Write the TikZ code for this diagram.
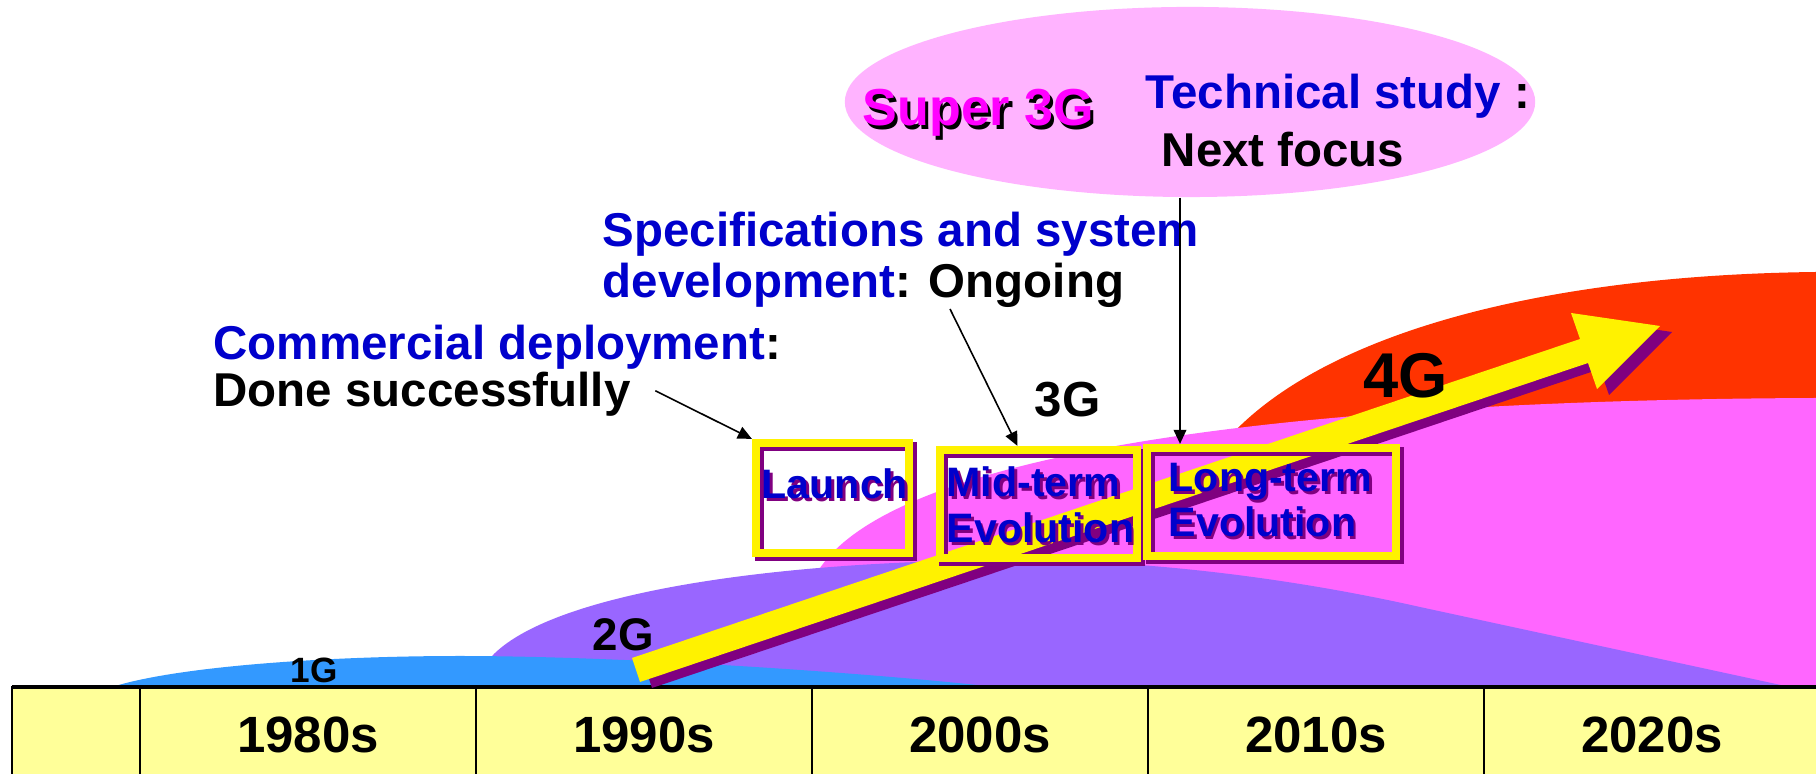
\documentclass[tikz,border=0pt]{standalone}
\usepackage{fontspec}
\setmainfont{Liberation Sans}
\usetikzlibrary{arrows.meta, positioning, calc, shapes.geometric}

\definecolor{gen1}{HTML}{3399FF}
\definecolor{gen2}{HTML}{9966FF}
\definecolor{gen3}{HTML}{FF66FF}
\definecolor{gen4}{HTML}{FF3300}
\definecolor{cloudpink}{HTML}{FFB3FF}
\definecolor{tablefill}{HTML}{FFFF99}
\definecolor{shadowpurple}{HTML}{800080}
\definecolor{labelblue}{HTML}{0000CC}
\definecolor{superpink}{HTML}{FF00FF}

% 带阴影的文字
\newcommand{\castshadow}[4]{\makebox[0pt][l]{\hspace{#3}\raisebox{-#3}{\textcolor{#2}{#4}}}\textcolor{#1}{#4}}
\newcommand{\boxtxt}[1]{\castshadow{labelblue}{shadowpurple}{0.8pt}{#1}}

\begin{document}
\begin{tikzpicture}[x=0.01cm, y=-0.01cm,
    stage/.style={draw=yellow, line width=2.3pt, inner sep=0pt,
      preaction={draw=shadowpurple, line width=2.3pt, transform canvas={xshift=1pt, yshift=-1pt}}},
    stagelabel/.style={inner sep=0pt, anchor=base west, font=\bfseries\fontsize{11.7}{13}\selectfont},
    note/.style={inner sep=0pt, anchor=base west, font=\bfseries\fontsize{13.5}{15}\selectfont},
    decade/.style={inner sep=0pt, anchor=base, font=\bfseries\fontsize{14.5}{16}\selectfont},
    genlabel/.style={inner sep=0pt, anchor=base west},
    pointer/.style={-{Triangle[length=4pt, width=3.6pt]}, line width=0.45pt}]
        % 固定画布大小
        \useasboundingbox (0,0) rectangle (1816,774);
        % 4G 红色区域
        \fill[gen4] (1231,500) -- (1231,435) .. controls (1330,330) and (1550,275) .. (1816,272) -- (1816,500) -- cycle;
        % 3G 粉色区域
        \fill[gen3] (820,687) -- (820,568) .. controls (900,450) and (1300,400) .. (1816,398) -- (1816,687) -- cycle;
        % 2G 紫色区域
        \fill[gen2] (492,687) -- (492,656) .. controls (550,595) and (760,562) .. (1000,560) .. controls (1150,559) and (1300,580) .. (1420,607) -- (1790,687) -- cycle;
        % 1G 蓝色区域
        \fill[gen1] (112,687) .. controls (178,666) and (330,656) .. (460,656) .. controls (620,656) and (860,672) .. (996,687) -- cycle;
        % 年代表格
        \draw[fill=tablefill, line width=0.6pt] (12,687) rectangle (1840,800);
        \draw[line width=0.9pt] (12,687) -- (1840,687);
        \foreach \x in {140,476,812,1148,1484}
            \draw[line width=0.6pt] (\x,687) -- (\x,774);
        \foreach \decname [count=\i] in {1980s,1990s,2000s,2010s,2020s}
            \node[decade] (dec\i) at ({308+336*(\i-1)},753) {\decname};
        % 黄色大箭头，先画阴影
        \foreach \dx/\dy/\col in {12/6/shadowpurple, 0/0/yellow}
            \fill[fill=\col, shift={(\dx,\dy)}] (632,658) -- (1580,339) -- (1571,313) -- (1660,326)
                -- (1597,389) -- (1588,363) -- (640,682) -- cycle;
        % 三个阶段方框
        \node[stage, minimum width=1.53cm, minimum height=1.10cm] (launch) at (832.5,498) {};
        \node[stage, minimum width=1.97cm, minimum height=1.08cm] (midterm) at (1038.5,504) {};
        \node[stage, minimum width=2.49cm, minimum height=1.08cm] (longterm) at (1271.5,502) {};
        \node[stagelabel] (launchA) at (761,499) {\boxtxt{Launch}};
        \node[stagelabel] (midA) at (946,497) {\boxtxt{Mid-term}};
        \node[stagelabel] (midB) at (946,543) {\boxtxt{Evolution}};
        \node[stagelabel] (longA) at (1168,492) {\boxtxt{Long-term}};
        \node[stagelabel] (longB) at (1168,537) {\boxtxt{Evolution}};
        % 代际标注
        \node[genlabel, font=\bfseries\fontsize{10}{12}\selectfont] (g1) at (290,683) {1G};
        \node[genlabel, font=\bfseries\fontsize{13}{15}\selectfont] (g2) at (592,651) {2G};
        \node[genlabel, font=\bfseries\fontsize{14}{16}\selectfont] (g3) at (1034,417) {3G};
        \node[genlabel, font=\bfseries\fontsize{18}{20}\selectfont] (g4) at (1363,398) {4G};
        % Super 3G 椭圆
        \node[ellipse, fill=cloudpink, minimum width=6.9cm, minimum height=1.9cm, inner sep=0pt] (s3g) at (1190,102) {};
        \node[note, font=\bfseries\fontsize{14.8}{16}\selectfont] (super) at (862,126) {\castshadow{superpink}{black}{0.9pt}{Super 3G}};
        \node[note] (study) at (1145,109) {\textcolor{labelblue}{Technical study} :};
        \node[note] (focus) at (1161,167) {Next focus};
        % 说明文字
        \node[note] (spec) at (602,247) {\textcolor{labelblue}{Specifications and system}};
        \node[note] (devel) at (602,298) {\textcolor{labelblue}{development}: Ongoing};
        \node[note] (commercial) at (213,360) {\textcolor{labelblue}{Commercial deployment}:};
        \node[note] (done) at (213,407) {Done successfully};
        % 指示箭头
        \draw[pointer] ($(done.east)+(24,-4)$) -- (launch.north west);
        \draw[pointer] ($(devel.base west)+(348,11)$) -- ($(midterm.north)+(-21,0)$);
        \draw[pointer] ($(s3g.south)+(-10,0)$) -- ($(longterm.north)+(-91.5,0)$);
    \end{tikzpicture}
\end{document}
